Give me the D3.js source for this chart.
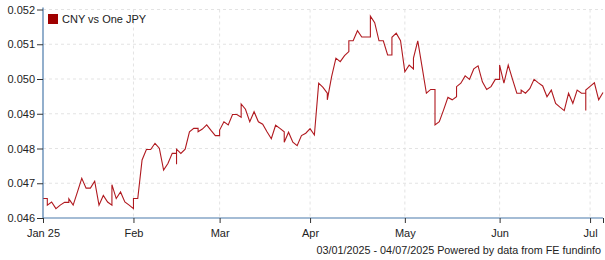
<!DOCTYPE html>
<html><head><meta charset="utf-8">
<script src="https://cdn.jsdelivr.net/npm/d3@7"></script>
<style>
body{margin:0;background:#fff;}
svg text{font-family:"Liberation Sans",Arial,sans-serif;fill:#222;}
</style>
</head><body>
<svg id="c" width="605" height="260"></svg>
<script>
const seriesName = "CNY vs One JPY";
const startDate = "2025-01-03";
const endDate = "2025-07-04";
// one value per weekday, Jan 3 .. Jul 4 2025
const values = [
0.04656,
0.04637,0.04646,0.04627,0.04637,0.04645,
0.04655,0.04637,0.04675,0.04714,0.04686,
0.04686,0.04706,0.04637,0.04665,0.04646,
0.04696,0.04656,0.04675,0.04646,0.04637,
0.04656,0.04656,0.04767,0.04797,0.04797,
0.04815,0.04801,0.04738,0.04757,0.04786,
0.04798,0.04786,0.04798,0.04848,0.04858,
0.04848,0.04856,0.04868,0.04852,0.04837,
0.04853,0.04877,0.04868,0.04898,0.04898,
0.04928,0.04913,0.04877,0.04906,0.04877,
0.04870,0.04848,0.04828,0.04867,0.04858,
0.04818,0.04847,0.04818,0.04808,0.04837,
0.04844,0.04857,0.04839,0.04988,0.04976,
0.04940,0.05007,0.05060,0.05050,0.05067,
0.05110,0.05110,0.05139,0.05121,0.05121,
0.05181,0.05162,0.05110,0.05110,0.05069,
0.05120,0.05132,0.05110,0.05021,0.05040,
0.05060,0.05110,0.05035,0.04959,0.04970,
0.04868,0.04877,0.04911,0.04947,0.04940,
0.04978,0.04988,0.05009,0.04999,0.05029,
0.05038,0.04992,0.04970,0.04978,0.04999,
0.05040,0.04988,0.05040,0.04999,0.04959,
0.04968,0.04959,0.04972,0.04999,0.04989,
0.04980,0.04949,0.04968,0.04930,0.04919,
0.04909,0.04959,0.04930,0.04968,0.04959,
0.04968,0.04979,0.04989,0.04940,0.04961
];
// extra weekend readings in the source data
const weekendDates = ["2025-01-04","2025-01-11","2025-01-25","2025-02-01","2025-02-15","2025-02-16",
  "2025-02-22","2025-03-01","2025-03-08","2025-03-22","2025-04-05","2025-04-12","2025-04-19",
  "2025-04-26","2025-05-03","2025-05-10","2025-05-17","2025-05-31","2025-06-07","2025-06-28","2025-06-29"];
const weekendValues = [0.04656,0.04645,0.04637,0.04627,0.04786,0.04755,
  0.04858,0.04837,0.04890,0.04848,0.04959,0.05079,0.05121,
  0.05069,0.05029,0.04970,0.04949,0.04999,0.04959,0.04959,0.04909];
const yTicks = [0.046,0.047,0.048,0.049,0.050,0.051,0.052];
const xTickDates = ["2025-01-03","2025-02-03","2025-03-03","2025-04-01","2025-05-01","2025-06-02","2025-07-01"];
const xTickLabels = ["Jan 25","Feb","Mar","Apr","May","Jun","Jul"];
const footerText = "03/01/2025 - 04/07/2025 Powered by data from FE fundinfo";

const parse = d3.utcParse("%Y-%m-%d");
const t0 = parse(startDate), t1 = parse(endDate);
const weekdays = d3.utcDay.range(t0, d3.utcDay.offset(t1, 1)).filter(d => d.getUTCDay() % 6 !== 0);
const bizIndex = d => d3.bisectLeft(weekdays, d);

const points = weekdays.map((d, i) => ({date: d, value: values[i]}))
  .concat(weekendDates.map((s, i) => ({date: parse(s), value: weekendValues[i]})))
  .sort((a, b) => a.date - b.date);

const svg = d3.select("#c");
const L = 43, R = 603, T = 9.5, B = 218;
const x = d3.scaleLinear().domain([0, weekdays.length - 1]).range([L, R]);
const y = d3.scaleLinear().domain([yTicks[0], yTicks[yTicks.length - 1]]).range([B, T]);
const axisColor = "#4a7aab";

const xTickIdx = xTickDates.map(s => bizIndex(parse(s)));

// grid
svg.append("g").selectAll("line.h").data(yTicks.slice(1)).join("line")
  .attr("x1", L).attr("x2", R).attr("y1", d => y(d)).attr("y2", d => y(d))
  .attr("stroke", "#e3e3e3").attr("stroke-dasharray", "3,3");
svg.append("g").selectAll("line.v").data(xTickIdx.slice(1)).join("line")
  .attr("x1", d => x(d)).attr("x2", d => x(d)).attr("y1", T).attr("y2", B)
  .attr("stroke", "#e3e3e3").attr("stroke-dasharray", "3,3");

// line
const line = d3.line().x(d => x(bizIndex(d.date))).y(d => y(d.value));
svg.append("path").datum(points).attr("d", line)
  .attr("fill", "none").attr("stroke", "#b0191f").attr("stroke-width", 1.1);

// axes
const yAxis = svg.append("g").attr("transform", `translate(${L},0)`)
  .call(d3.axisLeft(y).tickValues(yTicks).tickFormat(d3.format(".3f")).tickSize(6).tickSizeOuter(0).tickPadding(2));
const xAxis = svg.append("g").attr("transform", `translate(0,${B})`)
  .call(d3.axisBottom(x).tickValues(xTickIdx.concat([weekdays.length - 1]))
    .tickFormat((d, i) => xTickLabels[i] || "").tickSize(5).tickSizeOuter(0).tickPadding(6));
[yAxis, xAxis].forEach(g => {
  g.select(".domain").attr("stroke", axisColor).attr("stroke-width", 1.2);
  g.selectAll(".tick line").attr("stroke", "#333");
  g.selectAll("text").attr("font-size", 11).attr("fill", "#222")
    .attr("font-family", '"Liberation Sans",Arial,sans-serif');
});
yAxis.select(".domain").attr("d", `M0,${B}V${T - 2}`);
xAxis.select(".domain").attr("d", `M${L},0H${R}`);

// legend
svg.append("rect").attr("x", 48).attr("y", 14).attr("width", 10).attr("height", 10).attr("fill", "#a00000");
svg.append("text").attr("x", 62).attr("y", 23).attr("font-size", 11).text(seriesName);

// footer
svg.append("text").attr("x", 601).attr("y", 254).attr("text-anchor", "end").attr("font-size", 10.8).text(footerText);
</script>
</body></html>
